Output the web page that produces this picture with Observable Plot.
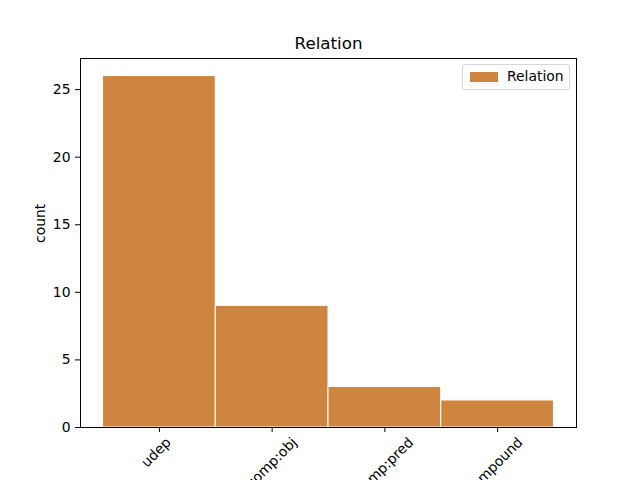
<!DOCTYPE html>
<html>
<head>
<meta charset="utf-8">
<script src="https://cdn.jsdelivr.net/npm/d3@7"></script>
<script src="https://cdn.jsdelivr.net/npm/@observablehq/plot@0.6"></script>
<style>
  body { margin: 0; background: white; }
  #wrap { position: relative; width: 640px; height: 480px; overflow: hidden; }
  #legend { position: absolute; left: 462px; top: 64px; width: 108px; height: 26px;
    border: 1px solid #d6d6d6; border-radius: 3px; background: rgba(255,255,255,0.8);
    font-family: "DejaVu Sans", sans-serif; font-size: 13.9px; box-sizing: border-box; }
  #legend .sw { position: absolute; left: 7px; top: 7px; width: 28px; height: 10px; background: #CD853F; }
  #legend .lb { position: absolute; left: 44px; top: 3px; line-height: 16px; }
</style>
</head>
<body>
<div id="wrap"></div>
<script>
const categories = ["udep", "xcomp:obj", "xcomp:pred", "compound"];
const counts = [26, 9, 3, 2];
const yTicks = [0, 5, 10, 15, 20, 25];
const chartTitle = "Relation";
const yLabel = "count";
const seriesName = "Relation";

const data = categories.map((c, i) => ({cat: c, i, count: counts[i]}));
const font = "DejaVu Sans, sans-serif";

const chart = Plot.plot({
  width: 640, height: 480,
  marginLeft: 80, marginRight: 64, marginTop: 58, marginBottom: 53,
  style: {fontFamily: font, fontSize: "13.9px", background: "white", color: "black"},
  x: {domain: [-0.7, 3.7], axis: null},
  y: {domain: [0, 27.3], axis: null},
  marks: [
    Plot.rectY(data, {x1: d => d.i - 0.5, x2: d => d.i + 0.5, y1: 0, y2: "count", fill: "#CD853F", stroke: "white", strokeWidth: 1}),
    Plot.frame({stroke: "black", strokeWidth: 1}),
    Plot.axisY(yTicks, {tickSize: 5, tickPadding: 5, label: null, fontSize: 13.9}),
    Plot.axisX(data.map(d => d.i), {tickSize: 5, tickFormat: () => "", label: null}),
    Plot.text(data, {x: "i", y: 0, text: "cat", rotate: -45, textAnchor: "middle", lineAnchor: "middle", fontSize: 13.9, className: "xlab"}),
    Plot.text([chartTitle], {frameAnchor: "top", dy: -15, fontSize: 16.7, lineAnchor: "middle"}),
    Plot.text([yLabel], {frameAnchor: "left", dx: -40, rotate: -90, fontSize: 13.9, lineAnchor: "middle"})
  ]
});

const wrap = document.getElementById("wrap");
wrap.appendChild(chart);

// place rotated tick labels like matplotlib (bbox centered under tick)
const xs = chart.scale("x");
d3.select(chart).selectAll(".xlab text").each(function(d, k) {
  const w = this.getComputedTextLength();
  const h = 13.9 * 1.15;
  const idx = (typeof d === "number") ? d : k;
  const cx = xs.apply(data[idx].i);
  const cy = 427 + 10 + (w + h) * Math.SQRT1_2 / 2;
  this.setAttribute("x", 0);
  this.setAttribute("y", 0);
  this.setAttribute("transform", `translate(${cx},${cy}) rotate(-45)`);
});

const lg = document.createElement("div");
lg.id = "legend";
lg.innerHTML = `<div class="sw"></div><div class="lb"></div>`;
lg.querySelector(".lb").textContent = seriesName;
wrap.appendChild(lg);
</script>
</body>
</html>
